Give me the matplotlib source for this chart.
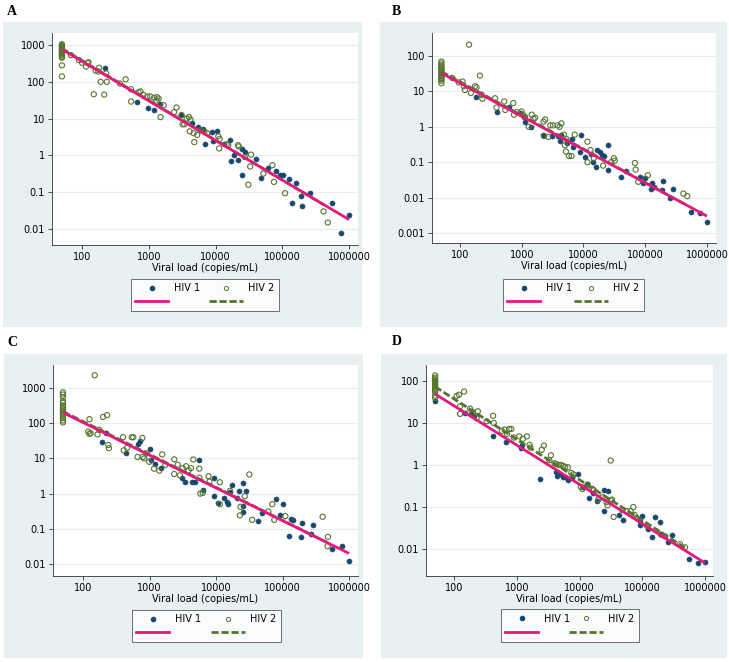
import matplotlib.pyplot as plt
from matplotlib.lines import Line2D
from matplotlib.patches import Rectangle
from matplotlib.ticker import FuncFormatter, NullLocator

# ---- data (viral load vs ratio) ----
x_ticks = [100, 1000, 10000, 100000, 1000000]

# panel A
a_hiv1_x = [220, 670, 960, 1200, 1450, 3000, 4500, 5400, 6500, 7000,
            8900, 10600, 9300, 13500, 16400, 17100, 19200, 21400, 24500, 24700,
            27700, 41000, 48000, 61000, 81000, 93000, 101000, 125000, 140000, 159000,
            193000, 198000, 261000, 556000, 767000, 1000000]
a_hiv1_y = [240, 28, 19, 17.5, 25, 12.5, 7.5, 6, 5.2, 2.1,
            4.2, 4.5, 2.5, 2.1, 2.6, 0.7, 1.0, 0.75, 0.29, 1.45,
            1.27, 0.79, 0.25, 0.46, 0.37, 0.30, 0.29, 0.23, 0.05, 0.18,
            0.078, 0.041, 0.096, 0.052, 0.008, 0.024]
a_hiv2_x = [50, 50, 50, 50, 50, 50, 50, 50, 50, 50, 50, 50, 50, 50, 50, 50,
            68, 90, 100, 115, 122, 125, 150, 160, 175, 180,
            190, 215, 230, 235, 370, 450, 540, 545, 700, 750,
            830, 950, 1050, 1200, 1300, 1330, 1400, 1500, 1670, 2400,
            2600, 3100, 3200, 3400, 3700, 4000, 4100, 4200, 4700, 4800,
            5300, 6000, 6800, 7500, 11000, 11300, 11500, 14700, 15500, 21700,
            22200, 27500, 31000, 33000, 34000, 52000, 71000, 75000, 110000, 415000,
            480000]
a_hiv2_y = [1050, 980, 930, 880, 830, 780, 730, 680, 640, 600, 560, 520, 480, 450, 280, 140,
            530, 390, 330, 260, 320, 340, 46, 200, 190, 240,
            100, 45, 170, 100, 90, 117, 63, 29, 52, 55,
            44, 40, 40, 37, 31, 38, 35, 11, 23, 15,
            20, 12.5, 7, 7, 10, 11, 4.5, 9.4, 4, 2.3,
            3.6, 4.8, 4.4, 4, 3.3, 1.55, 2.8, 2, 1.9, 1.9,
            1.75, 0.9, 0.16, 0.5, 1.05, 0.32, 0.54, 0.19, 0.094, 0.03,
            0.015]
a_fit1_x, a_fit1_y = [50, 1000000], [760, 0.018]
a_fit2_x, a_fit2_y = [50, 420000], [800, 0.045]
a_yticks = [0.01, 0.1, 1, 10, 100, 1000]

# panel B
b_hiv1_x = [180, 400, 630, 930, 1100, 1150, 1400, 2200, 3100, 3800,
            4100, 4400, 5500, 6400, 6800, 9200, 8700, 10500, 13000, 14000,
            16000, 16800, 18400, 20000, 21600, 24500, 24500, 41000, 49000, 82000,
            92000, 100000, 123000, 130000, 140000, 195000, 190000, 285000, 255000, 560000,
            760000, 1000000]
b_hiv1_y = [7, 2.7, 3.6, 2.4, 1.9, 1.4, 1.0, 0.6, 0.55, 0.55,
            0.4, 0.57, 0.34, 0.45, 0.27, 0.59, 0.2, 0.14, 0.17, 0.1,
            0.075, 0.22, 0.19, 0.16, 0.15, 0.3, 0.06, 0.037, 0.055, 0.038,
            0.026, 0.035, 0.017, 0.026, 0.02, 0.029, 0.016, 0.018, 0.01, 0.004,
            0.0036, 0.002]
b_hiv2_x = [50, 50, 50, 50, 50, 50, 50, 50, 50, 50, 50, 50, 50, 50, 50, 50,
            140, 210, 110, 115, 120, 175, 185, 150, 225, 230,
            370, 390, 520, 540, 730, 750, 830, 990, 1050, 1130,
            1450, 1550, 1650, 1300, 2250, 2400, 2300, 2700, 2900, 3200,
            3800, 4100, 4400, 4800, 5000, 5300, 5200, 5800, 6400, 7200,
            11600, 11600, 13000, 14700, 20800, 28000, 31000, 32000, 68000, 70000,
            77000, 110000, 415000, 480000, 75, 95]
b_hiv2_y = [70, 62, 55, 50, 46, 42, 39, 36, 33, 30, 28, 26, 24, 22, 20, 17,
            210, 28, 19, 14, 11, 14, 13, 9, 8, 6.2,
            6.4, 3.5, 5.2, 3.0, 4.7, 2.2, 2.6, 2.7, 2.2, 1.9,
            2.2, 1.7, 1.8, 1.0, 1.4, 1.6, 0.55, 0.52, 1.1, 1.1,
            1.1, 1.0, 1.25, 0.6, 0.3, 0.45, 0.2, 0.15, 0.15, 0.6,
            0.38, 0.1, 0.22, 0.13, 0.08, 0.1, 0.13, 0.11, 0.095, 0.062,
            0.028, 0.043, 0.013, 0.011, 24, 18]
b_fit1_x, b_fit1_y = [50, 1000000], [33, 0.003]
b_fit2_x, b_fit2_y = [50, 480000], [36, 0.006]
b_yticks = [0.001, 0.01, 0.1, 1, 10, 100]

# panel C
c_hiv1_x = [190, 225, 440, 670, 720, 1000, 1050, 1220, 1480, 3050,
            3400, 4300, 4800, 5550, 6400, 9400, 9200, 10800, 13000, 14400,
            15000, 17500, 16300, 21000, 22500, 25000, 25300, 25800, 28200, 49000,
            42000, 81000, 100000, 92000, 123000, 133000, 145000, 195000, 190000, 290000,
            270000, 560000, 770000, 1000000]
c_hiv1_y = [29, 52, 14, 26, 32, 18.5, 9, 6.9, 5.3, 2.8,
            2.1, 2.2, 2.2, 9.3, 1.3, 2.8, 0.85, 0.55, 0.75, 0.56,
            0.52, 1.8, 1.1, 0.75, 1.2, 2.0, 0.44, 0.3, 1.2, 0.29,
            0.17, 0.69, 0.52, 0.25, 0.064, 0.19, 0.18, 0.15, 0.06, 0.13,
            0.07, 0.027, 0.032, 0.012]
c_hiv2_x = [50, 50, 50, 50, 50, 50, 50, 50, 50, 50, 50, 50, 50, 50, 50,
            150, 125, 120, 125, 130, 165, 200, 230, 240, 245,
            175, 400, 410, 460, 540, 570, 660, 780, 790, 830,
            910, 990, 1170, 1400, 1550, 1730, 2350, 2350, 2650, 2870,
            3150, 3550, 3860, 4200, 4560, 5600, 5600, 5800, 6300, 7700,
            7950, 11400, 11400, 16200, 22800, 23300, 27000, 31600, 35000, 70000,
            75000, 61000, 110000, 400000, 475000, 480000]
c_hiv2_y = [750, 650, 550, 420, 380, 320, 280, 250, 220, 200, 180, 160, 140, 120, 105,
            2300, 130, 58, 50, 52, 48, 150, 170, 24, 19.5,
            65, 40, 17, 20, 40, 40, 11, 38, 11, 10,
            14, 8, 5.1, 4.5, 13, 6.6, 9.4, 3.6, 6.6, 3.3,
            5.3, 6, 4.6, 5.3, 9.3, 5.1, 2.8, 1.0, 1.05, 3.1,
            2.2, 2.1, 0.5, 1.2, 0.24, 0.42, 0.85, 3.5, 0.18, 0.5,
            0.18, 0.31, 0.23, 0.22, 0.032, 0.059]
c_fit1_x, c_fit1_y = [50, 1000000], [200, 0.02]
c_fit2_x, c_fit2_y = [50, 480000], [215, 0.04]
c_yticks = [0.01, 0.1, 1, 10, 100, 1000]

# panel D
d_hiv1_x = [50, 150, 190, 210, 420, 670, 1170, 1200, 2350, 4150,
            4400, 4900, 5500, 6300, 6600, 7500, 9300, 11400, 13000, 14400,
            16600, 19300, 24900, 24700, 28000, 42600, 49000, 93000, 100000, 92000,
            122000, 145000, 160000, 195000, 200000, 295000, 260000, 560000, 760000, 1000000]
d_hiv1_y = [34, 17, 16, 15, 4.9, 3.6, 2.5, 3.0, 0.46, 0.7,
            0.54, 0.6, 0.53, 0.48, 0.43, 0.5, 0.6, 0.3, 0.36, 0.16,
            0.21, 0.14, 0.08, 0.25, 0.24, 0.063, 0.048, 0.046, 0.06, 0.037,
            0.03, 0.019, 0.059, 0.044, 0.023, 0.021, 0.015, 0.0058, 0.0046, 0.0049]
d_hiv2_x = [50, 50, 50, 50, 50, 50, 50, 50, 50, 50, 50, 50, 50, 50, 50,
            110, 120, 145, 125, 125, 180, 200, 230, 240, 330,
            420, 430, 580, 640, 700, 760, 820, 900, 1100, 1250,
            1450, 1600, 1650, 2500, 2700, 3300, 3500, 4000, 4300, 4700,
            5100, 5500, 5900, 6500, 7400, 8000, 10500, 11200, 13500, 16000,
            17000, 20000, 23000, 27000, 28000, 31400, 32000, 33000, 35000, 48000,
            56000, 65000, 72000, 75000, 82000, 120000, 200000, 230000, 400000, 480000]
d_hiv2_y = [135, 120, 110, 100, 95, 90, 85, 80, 75, 70, 65, 60, 55, 45, 40,
            44, 47, 56, 16.5, 25, 22, 18, 13, 19, 11,
            14.8, 10, 6.5, 7, 5.5, 7.2, 7.2, 4.5, 4.8, 4.2,
            4.8, 3, 2.6, 2.3, 2.9, 1.3, 1.7, 1.1, 1.05, 1.0,
            1.0, 0.95, 0.9, 0.88, 0.65, 0.6, 0.3, 0.27, 0.34, 0.27,
            0.25, 0.15, 0.17, 0.13, 0.11, 1.28, 0.14, 0.15, 0.058, 0.085,
            0.08, 0.08, 0.1, 0.065, 0.055, 0.035, 0.022, 0.02, 0.013, 0.011]
d_fit1_x, d_fit1_y = [50, 1000000], [49, 0.00465]
d_fit2_x, d_fit2_y = [50, 480000], [73, 0.0107]
d_yticks = [0.01, 0.1, 1, 10, 100]

# ---- styling ----
W, H = 729, 662
BG = '#E8F0F2'
GRID = '#E4EDEF'
NAVY = '#1A476F'
GREEN = '#55752F'
PINK = '#E5197C'
FONT = 'DejaVu Sans'
FS = 7
LW = 2.0
DASH = (0, (2.6, 1.0))

panels = [
    dict(letter='A', lpos=(7, 15), bg=(3, 22, 362, 327), box=(52, 33, 358, 245),
         xlim=(35.5, 1.36e6), ylim=(0.00367, 2120), yticks=a_yticks, leg=(131, 278, 279, 312),
         h1=(a_hiv1_x, a_hiv1_y), h2=(a_hiv2_x, a_hiv2_y),
         f1=(a_fit1_x, a_fit1_y), f2=(a_fit2_x, a_fit2_y)),
    dict(letter='B', lpos=(392, 15), bg=(380, 22, 727, 327), box=(432, 33, 716, 243),
         xlim=(35.2, 1.4e6), ylim=(0.000522, 447), yticks=b_yticks, leg=(503, 278, 644, 312),
         h1=(b_hiv1_x, b_hiv1_y), h2=(b_hiv2_x, b_hiv2_y),
         f1=(b_fit1_x, b_fit1_y), f2=(b_fit2_x, b_fit2_y)),
    dict(letter='C', lpos=(7, 346), bg=(4, 354, 363, 658), box=(53, 365, 358, 576),
         xlim=(35.4, 1.36e6), ylim=(0.00457, 4500), yticks=c_yticks, leg=(132, 609, 281, 643),
         h1=(c_hiv1_x, c_hiv1_y), h2=(c_hiv2_x, c_hiv2_y),
         f1=(c_fit1_x, c_fit1_y), f2=(c_fit2_x, c_fit2_y)),
    dict(letter='D', lpos=(392, 345), bg=(381, 354, 727, 658), box=(426, 365, 713, 576),
         xlim=(35.8, 1.34e6), ylim=(0.00228, 240), yticks=d_yticks, leg=(501, 608, 639, 643),
         h1=(d_hiv1_x, d_hiv1_y), h2=(d_hiv2_x, d_hiv2_y),
         f1=(d_fit1_x, d_fit1_y), f2=(d_fit2_x, d_fit2_y)),
]


def tick_fmt(v, pos):
    return str(int(round(v))) if v >= 1 else f'{v:g}'


fig = plt.figure(figsize=(W / 100, H / 100), dpi=100)
fig.patch.set_facecolor('white')

for p in panels:
    l, t, r, b = p['bg']
    fig.add_artist(Rectangle((l / W, 1 - b / H), (r - l) / W, (b - t) / H,
                             transform=fig.transFigure, facecolor=BG,
                             edgecolor='none', zorder=0))
    l, t, r, b = p['box']
    ax = fig.add_axes([l / W, 1 - b / H, (r - l) / W, (b - t) / H])
    ax.set_xscale('log')
    ax.set_yscale('log')
    ax.set_xlim(*p['xlim'])
    ax.set_ylim(*p['ylim'])
    ax.set_xticks(x_ticks)
    ax.set_yticks(p['yticks'])
    ax.xaxis.set_minor_locator(NullLocator())
    ax.yaxis.set_minor_locator(NullLocator())
    ax.xaxis.set_major_formatter(FuncFormatter(tick_fmt))
    ax.yaxis.set_major_formatter(FuncFormatter(tick_fmt))
    ax.tick_params(labelsize=FS, length=3, width=0.6, color='#333333', pad=2)
    for lab in ax.get_xticklabels() + ax.get_yticklabels():
        lab.set_family(FONT)
    ax.grid(axis='y', color=GRID, lw=0.8)
    ax.set_axisbelow(True)
    ax.spines['top'].set_visible(False)
    ax.spines['right'].set_visible(False)
    for s in ('left', 'bottom'):
        ax.spines[s].set_linewidth(0.6)
        ax.spines[s].set_color('#333333')

    ax.scatter(*p['h1'], s=14, color=NAVY, edgecolors=NAVY, linewidths=0.3, zorder=3)
    ax.scatter(*p['h2'], s=14, facecolors='none', edgecolors=GREEN, linewidths=0.8, zorder=4)
    ax.plot(*p['f2'], color=GREEN, lw=LW, ls=DASH, zorder=5)
    ax.plot(*p['f1'], color=PINK, lw=LW, zorder=6, solid_capstyle='butt')

    ax.set_xlabel('Viral load (copies/mL)', fontsize=FS, family=FONT, labelpad=0.5)

    handles = [
        Line2D([], [], ls='none', marker='o', ms=3, color=NAVY),
        Line2D([], [], color=PINK, lw=LW),
        Line2D([], [], ls='none', marker='o', ms=3, mfc='none', mec=GREEN, mew=0.7),
        Line2D([], [], color=GREEN, lw=LW, ls=DASH),
    ]
    l, t, r, b = p['leg']
    leg = ax.legend(handles, ['HIV 1', '', 'HIV 2', ''], ncol=2, loc='center',
                    bbox_to_anchor=(l / W, 1 - b / H, (r - l) / W, (b - t) / H),
                    bbox_transform=fig.transFigure, mode='expand',
                    prop={'family': FONT, 'size': FS}, fancybox=False,
                    handlelength=3.4, handletextpad=0.6, columnspacing=1.4,
                    labelspacing=0.35, borderpad=0.45, borderaxespad=0)
    leg.get_frame().set_edgecolor('#333333')
    leg.get_frame().set_linewidth(0.6)

    fig.text(p['lpos'][0] / W, 1 - p['lpos'][1] / H, p['letter'],
             family='Liberation Serif', weight='bold', fontsize=10,
             ha='left', va='baseline')

fig.savefig('out.png', dpi=100)
